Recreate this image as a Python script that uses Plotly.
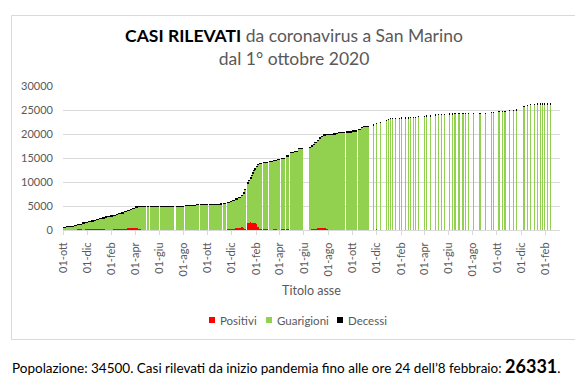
import plotly.graph_objects as go

# ---- Dati (blocchi di giorni con dati) ----
date_inizio = [
    # ott 2020 - apr 2021
    '2020-10-01', '2020-10-08', '2020-10-15', '2020-10-22', '2020-10-29', '2020-11-05', '2020-11-12',
    '2020-11-19', '2020-11-26', '2020-12-03', '2020-12-10', '2020-12-17', '2020-12-24', '2020-12-31',
    '2021-01-07', '2021-01-14', '2021-01-21', '2021-01-28', '2021-02-04', '2021-02-11', '2021-02-18',
    '2021-02-25', '2021-03-04', '2021-03-11', '2021-03-18', '2021-03-25', '2021-04-01', '2021-04-08',
    # apr 2021 - gen 2022
    '2021-04-15', '2021-04-30', '2021-05-09', '2021-06-03', '2021-07-04', '2021-07-12', '2021-08-04',
    '2021-09-04', '2021-09-11', '2021-10-04', '2021-11-02', '2021-11-08', '2021-11-18', '2021-11-28',
    '2021-12-02', '2021-12-10', '2021-12-16', '2021-12-23', '2021-12-30', '2022-01-02',
    # gen 2022 - mag 2022
    '2022-01-10', '2022-01-13', '2022-01-16', '2022-01-19', '2022-01-22', '2022-01-25', '2022-01-28',
    '2022-01-31', '2022-02-03', '2022-02-08', '2022-02-18', '2022-03-05', '2022-03-16', '2022-03-27',
    '2022-04-03', '2022-04-17', '2022-04-27', '2022-05-08', '2022-05-18',
    # giu 2022 - nov 2022
    '2022-06-15', '2022-06-20', '2022-06-24', '2022-06-28', '2022-07-06', '2022-07-10', '2022-07-15',
    '2022-07-20', '2022-07-26', '2022-08-01', '2022-08-12', '2022-08-22', '2022-08-26', '2022-09-15',
    '2022-09-29', '2022-10-16', '2022-10-24', '2022-10-28',
    # rilevazioni singole nov 2022 - feb 2024
    '2022-11-23', '2022-12-01', '2022-12-10', '2022-12-25', '2022-12-31', '2023-01-06', '2023-01-11',
    '2023-01-17', '2023-01-27', '2023-02-02', '2023-02-11', '2023-02-19', '2023-02-25', '2023-03-04',
    '2023-03-10', '2023-03-17', '2023-03-31', '2023-04-06', '2023-04-15', '2023-04-28', '2023-05-06',
    '2023-05-13', '2023-05-21', '2023-06-02', '2023-06-10', '2023-06-17', '2023-06-27', '2023-07-07',
    '2023-07-14', '2023-07-22', '2023-08-03', '2023-08-19', '2023-09-01', '2023-09-16', '2023-09-23',
    '2023-10-06', '2023-10-14', '2023-10-21', '2023-11-02', '2023-11-11', '2023-11-18', '2023-12-08',
    '2023-12-16', '2023-12-25', '2024-01-04', '2024-01-12', '2024-01-19', '2024-01-24', '2024-01-29',
    '2024-02-05', '2024-02-13',
]

giorni = [
    7, 7, 7, 7, 7, 7, 7, 7, 7, 7, 7, 7, 7, 7, 7, 7, 7, 7, 7, 7, 7, 7, 7, 7, 7, 7, 7, 7,
    13, 7, 22, 29, 5, 21, 29, 5, 21, 27, 4, 8, 8, 4, 6, 6, 7, 7, 3, 2,
    3, 3, 3, 3, 3, 3, 3, 3, 3, 8, 13, 9, 9, 5, 12, 8, 9, 8, 12,
    3, 4, 4, 5, 4, 5, 5, 6, 6, 11, 8, 4, 17, 14, 14, 8, 4, 16,
    1, 1, 1, 1, 1, 1, 1, 1, 1, 1, 1, 1, 1, 1, 1, 1, 1, 1, 1, 1, 1, 1, 1, 1, 1, 1,
    1, 1, 1, 1, 1, 1, 1, 1, 1, 1, 1, 1, 1, 1, 1, 1, 1, 1, 1, 1, 1, 1, 1, 1, 1,
]

totale = [
    600, 690, 690, 700, 980, 1150, 1250, 1460, 1600, 1780, 1900, 2080, 2290, 2380,
    2550, 2710, 2850, 2950, 3060, 3270, 3480, 3600, 3900, 4100, 4300, 4550, 4800, 4980,
    4980, 4980, 4980, 4980, 4980, 4990, 5100, 5300, 5350, 5350, 5450, 5560, 5770, 5980,
    6250, 6520, 6870, 7290, 7770, 8540,
    9800, 10400, 10900, 11400, 11900, 12400, 12800, 13300, 13700, 13900, 14100, 14300, 14500, 14720,
    14950, 15500, 16150, 16450, 17000,
    17220, 17560, 17910, 18260, 18750, 19230, 19580, 19850, 19920, 20000, 20060, 20200, 20350, 20480,
    20690, 20970, 21400, 21600,
    21980, 22290, 22500, 22850, 23060, 23270, 23280, 23300, 23330, 23350, 23420, 23440, 23460, 23480,
    23530, 23680, 23750, 23760, 23850, 24050, 24090, 24100, 24160, 24170, 24180, 24300, 24300, 24300,
    24310, 24310, 24320, 24330, 24360, 24510, 24520, 24720, 24740, 24750, 24930, 24950, 25070, 25800,
    26000, 26200, 26250, 26280, 26300, 26310, 26320, 26325, 26331,
]

positivi = [
    0, 0, 0, 0, 0, 200, 200, 0, 200, 200, 200, 200, 200, 200,
    200, 0, 0, 0, 200, 200, 200, 200, 250, 400, 400, 400, 400, 200,
    0, 0, 0, 0, 0, 0, 0, 0, 0, 0, 0, 0, 200, 200,
    200, 450, 500, 550, 450, 300,
    1500, 1500, 1700, 1500, 1500, 1500, 1450, 1200, 600, 250, 200, 100, 200, 0,
    200, 200, 0, 0, 0,
    0, 200, 200, 300, 400, 400, 400, 400, 200, 0, 0, 0, 0, 0,
    0, 0, 0, 0,
    0, 200, 0, 0, 0, 0, 0, 0, 0, 0, 0, 0, 0, 0,
    0, 0, 0, 0, 0, 0, 0, 0, 0, 0, 0, 0, 0, 0,
    0, 0, 0, 0, 0, 0, 0, 0, 0, 0, 0, 0, 0, 0,
    0, 0, 0, 0, 0, 0, 0, 0, 0,
]

decessi = [
    42, 43, 44, 45, 46, 48, 50, 52, 54, 56, 58, 60, 62, 64,
    66, 68, 70, 72, 74, 76, 77, 78, 80, 82, 84, 86, 88, 89,
    90, 90, 90, 90, 90, 90, 90, 90, 90, 90, 90, 91, 91, 91,
    92, 92, 92, 93, 93, 94,
    95, 95, 96, 96, 97, 97, 98, 98, 99, 100, 101, 103, 104, 105,
    106, 107, 108, 109, 110,
    111, 111, 112, 112, 113, 113, 113, 114, 114, 114, 114, 115, 115, 115,
    115, 116, 116, 116,
    117, 117, 117, 117, 118, 118, 118, 118, 118, 119, 119, 119, 119, 120,
    120, 120, 120, 120, 121, 121, 121, 121, 121, 122, 122, 122, 122, 122,
    122, 122, 123, 123, 123, 123, 123, 124, 124, 124, 124, 124, 125, 125,
    125, 126, 126, 126, 126, 126, 126, 126, 126,
]

guarigioni = [t - p - d for t, p, d in zip(totale, positivi, decessi)]

tick_date = [
    '2020-10-01', '2020-12-01', '2021-02-01', '2021-04-01', '2021-06-01', '2021-08-01', '2021-10-01',
    '2021-12-01', '2022-02-01', '2022-04-01', '2022-06-01', '2022-08-01', '2022-10-01', '2022-12-01',
    '2023-02-01', '2023-04-01', '2023-06-01', '2023-08-01', '2023-10-01', '2023-12-01', '2024-02-01',
]
tick_etichette = [
    '01-ott', '01-dic', '01-feb', '01-apr', '01-giu', '01-ago', '01-ott',
    '01-dic', '01-feb', '01-apr', '01-giu', '01-ago', '01-ott', '01-dic',
    '01-feb', '01-apr', '01-giu', '01-ago', '01-ott', '01-dic', '01-feb',
]
y_tick = [0, 5000, 10000, 15000, 20000, 25000, 30000]

serie = [
    ('Positivi', positivi, '#FF0000'),
    ('Guarigioni', guarigioni, '#92D050'),
    ('Decessi', decessi, '#000000'),
]

# ---- Stile / layout ----
DAY_MS = 86400000
larghezza = [g * DAY_MS if g > 1 else 0.3 * DAY_MS for g in giorni]

W, H = 575, 391
L, R, T, B = 63, 15, 86, 161
PW, PH = W - L - R, H - T - B


def px_x(p):
    return (p - L) / PW


def px_y(p):
    return (H - B - p) / PH


fig = go.Figure()
for nome, valori, colore in serie:
    fig.add_trace(go.Bar(
        x=date_inizio, y=valori, width=larghezza, offset=0,
        marker=dict(color=colore, line=dict(width=0)),
        name=nome, showlegend=False,
    ))

# legenda compatta (quadratino + testo) come nel riferimento
leg_simbolo_x = [212, 269, 340]
leg_testo_x = [218, 275, 346]
leg_y = 320
forme = [dict(
    type='rect', xref='paper', yref='paper',
    x0=px_x(11.5), x1=px_x(590), y0=px_y(339.5), y1=px_y(15.5),
    line=dict(color='#D9D9D9', width=1), fillcolor='rgba(0,0,0,0)', layer='below',
)]
note = []
for (nome, _, colore), sx, tx in zip(serie, leg_simbolo_x, leg_testo_x):
    forme.append(dict(
        type='rect', xref='paper', yref='paper',
        x0=px_x(sx - 3), x1=px_x(sx + 3), y0=px_y(leg_y + 3), y1=px_y(leg_y - 3),
        line=dict(width=0), fillcolor=colore,
    ))
    note.append(dict(
        xref='paper', yref='paper', x=px_x(tx), y=px_y(leg_y), xanchor='left', yanchor='middle',
        showarrow=False, text=nome, font=dict(family='Lato', size=11.5, color='#595959'),
    ))

note.append(dict(
    xref='paper', yref='paper', x=px_x(10), y=px_y(366), xanchor='left', yanchor='middle',
    showarrow=False, align='left',
    text="Popolazione: 34500. Casi rilevati da inizio pandemia fino alle ore 24 dell’8 febbraio: "
         "<b><span style='font-size:18px'>26331</span></b>.",
    font=dict(family='Lato', size=13.5, color='#000000'),
))

fig.update_layout(
    width=W, height=H,
    margin=dict(l=L, r=R, t=T, b=B),
    paper_bgcolor='white', plot_bgcolor='white',
    barmode='stack', showlegend=False,
    font=dict(family='Lato', color='#595959', size=11),
    title=dict(
        text="<span style='color:#000000'><b>CASI RILEVATI</b></span> da coronavirus a San Marino"
             "<br>dal 1° ottobre 2020",
        x=294 / W, xanchor='center', xref='container',
        y=1 - 42 / H, yanchor='top', yref='container',
        font=dict(family='Lato', size=17.5, color='#595959'),
    ),
    xaxis=dict(
        type='date', range=['2020-10-01', '2024-03-08'],
        tickmode='array', tickvals=tick_date, ticktext=tick_etichette,
        tickangle=-90, ticks='outside', ticklen=4, tickcolor='#D9D9D9',
        showline=True, linecolor='#D9D9D9', linewidth=1,
        showgrid=False, zeroline=False,
        tickfont=dict(size=11, color='#595959'), ticklabelstandoff=3,
        title=dict(text='Titolo asse', font=dict(size=12.5, color='#595959'), standoff=10),
    ),
    yaxis=dict(
        range=[0, 30000], tickmode='array', tickvals=y_tick, ticktext=[str(v) for v in y_tick],
        showgrid=True, gridcolor='#D9D9D9', gridwidth=1, zeroline=False, showline=False,
        tickfont=dict(size=11, color='#595959'), ticklabelstandoff=9,
    ),
    shapes=forme,
    annotations=note,
)

fig.write_html('out.html', config={'displayModeBar': False},
               post_script="document.body.style.margin='0px';")
